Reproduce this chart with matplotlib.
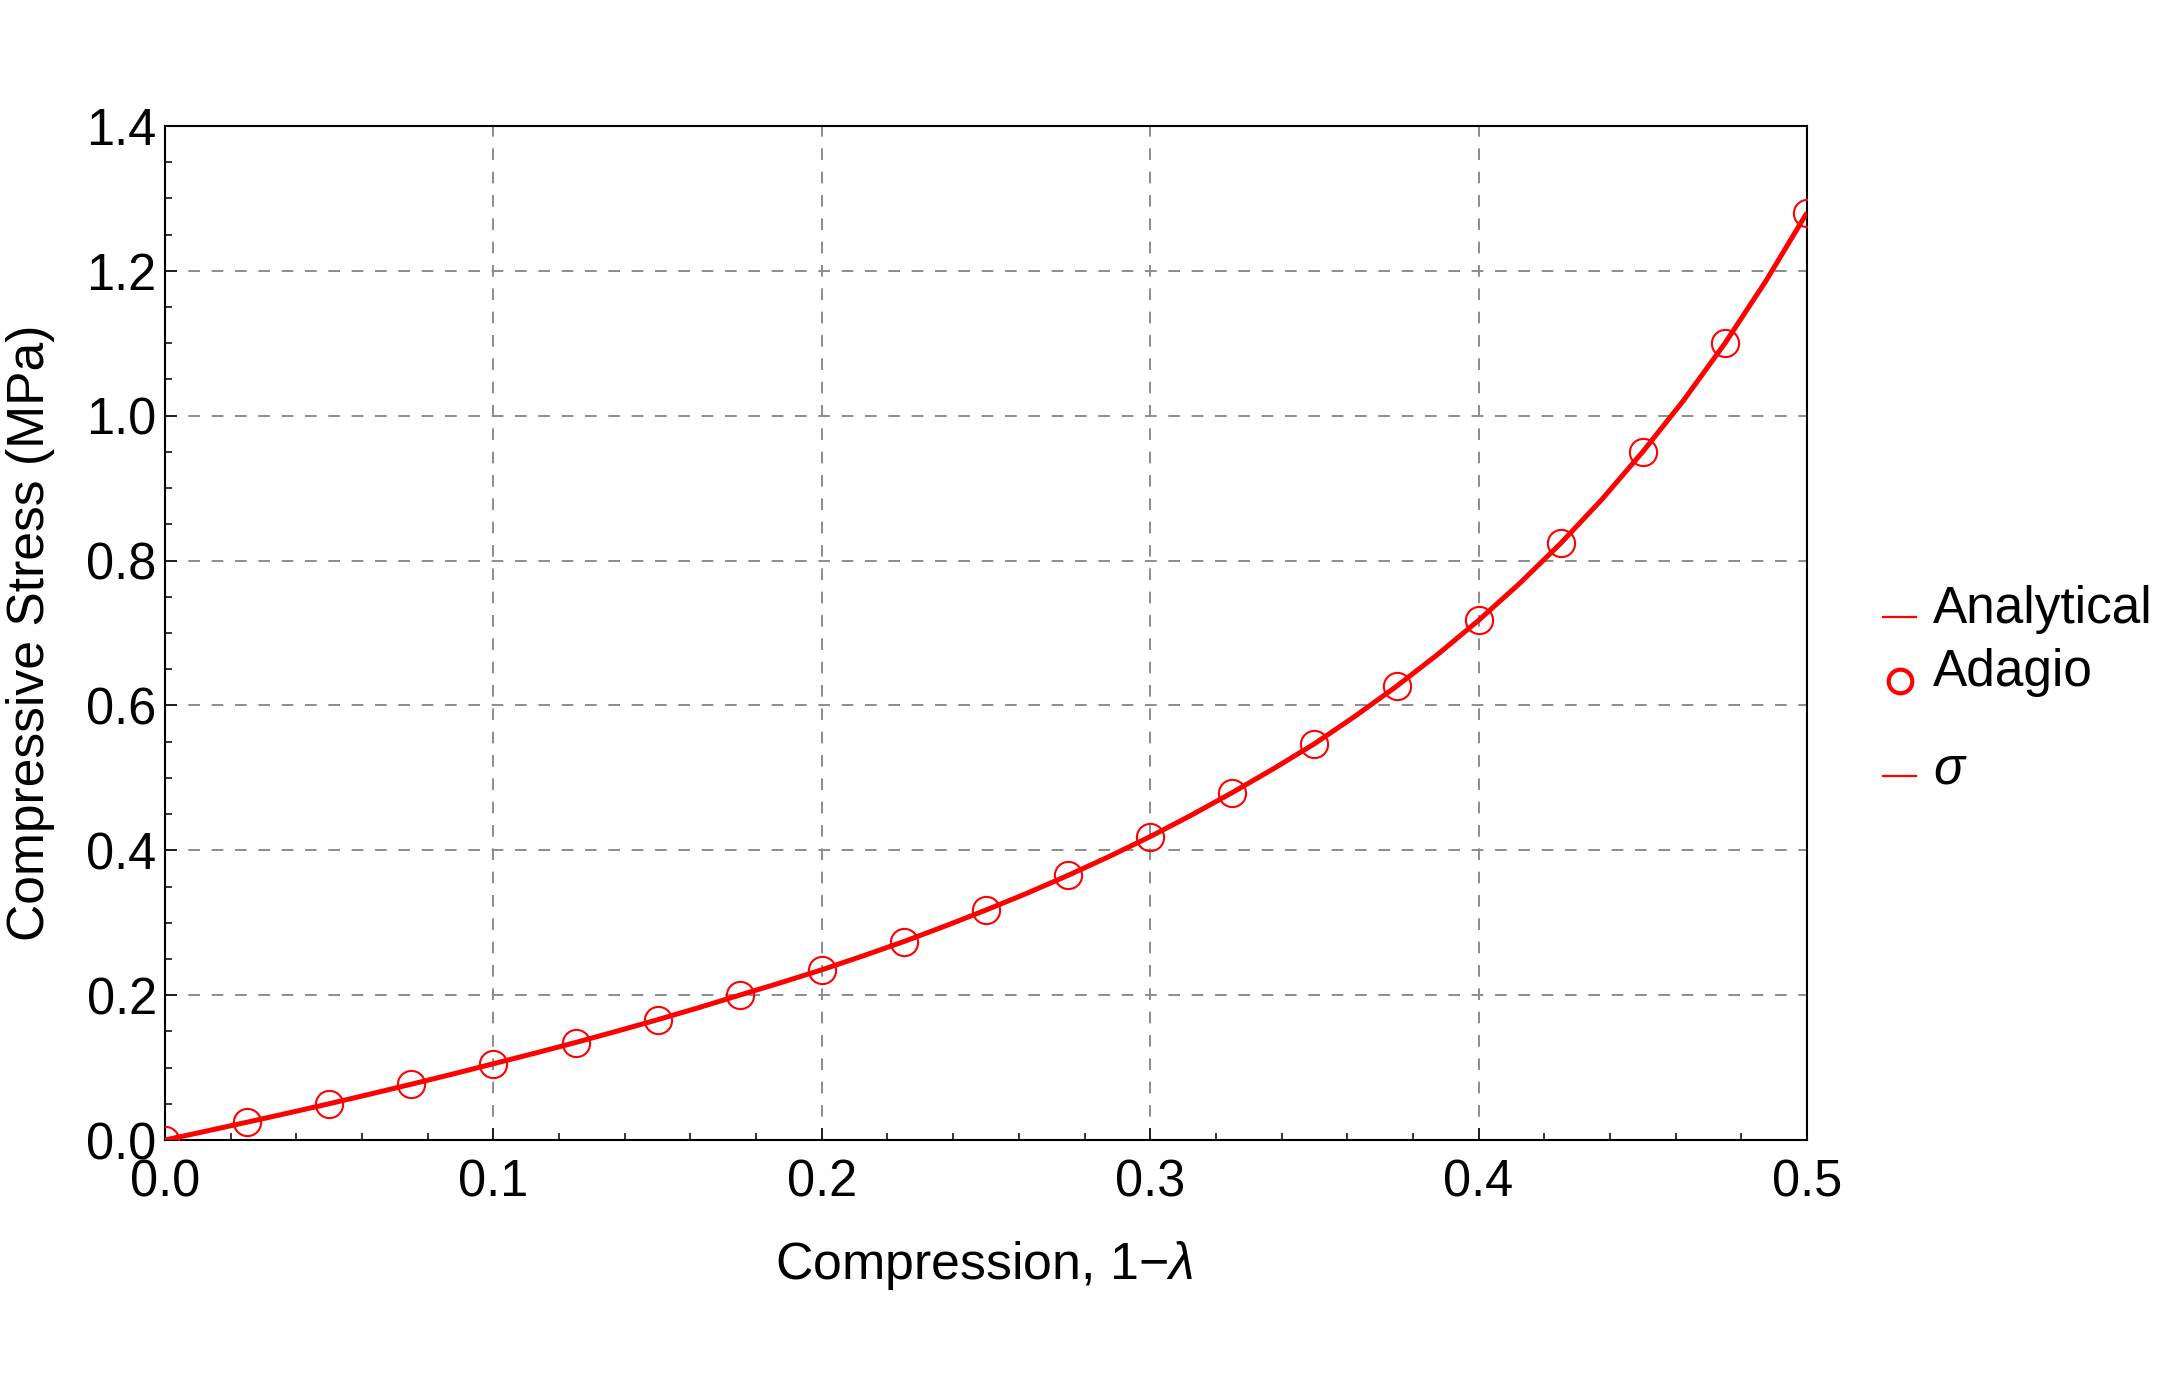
import matplotlib
matplotlib.use("Agg")
import matplotlib.pyplot as plt
from matplotlib.lines import Line2D
from matplotlib.ticker import MultipleLocator, FormatStrFormatter

plt.rcParams['font.family'] = ['Liberation Sans', 'DejaVu Sans']
plt.rcParams['mathtext.fontset'] = 'custom'
plt.rcParams['mathtext.rm'] = 'Liberation Sans'
plt.rcParams['mathtext.it'] = 'Liberation Sans:italic'
plt.rcParams['lines.scale_dashes'] = False

# Adagio (simulation) points
adagio_x = [0.0, 0.025, 0.05, 0.075, 0.1, 0.125, 0.15, 0.175, 0.2, 0.225, 0.25,
            0.275, 0.3, 0.325, 0.35, 0.375, 0.4, 0.425, 0.45, 0.475, 0.5]
adagio_y = [0.0, 0.0246, 0.0501, 0.077, 0.1053, 0.1346, 0.1661, 0.200, 0.235, 0.274, 0.3175,
            0.3654, 0.4189, 0.4797, 0.547, 0.6264, 0.7175, 0.8238, 0.9503, 1.0999, 1.2803]

# Analytical curve
analytic_x = [0.0, 0.0125, 0.025, 0.0375, 0.05, 0.0625, 0.075, 0.0875, 0.1, 0.1125, 0.125,
              0.1375, 0.15, 0.1625, 0.175, 0.1875, 0.2, 0.2125, 0.225, 0.2375, 0.25,
              0.2625, 0.275, 0.2875, 0.3, 0.3125, 0.325, 0.3375, 0.35, 0.3625, 0.375,
              0.3875, 0.4, 0.4125, 0.425, 0.4375, 0.45, 0.4625, 0.475, 0.4875, 0.5]
analytic_y = [0.0, 0.0122, 0.0246, 0.0372, 0.0501, 0.0634, 0.077, 0.0909, 0.1053, 0.1197, 0.1346,
              0.1501, 0.1661, 0.1827, 0.200, 0.2172, 0.235, 0.2541, 0.274, 0.2953, 0.3175,
              0.3407, 0.3654, 0.3914, 0.4189, 0.4484, 0.4797, 0.5125, 0.547, 0.5855, 0.6264,
              0.6703, 0.7175, 0.7685, 0.8238, 0.8842, 0.9503, 1.0217, 1.0999, 1.1862, 1.2803]

x_label = 'Compression, 1\u2212$\\lambda$'
y_label = 'Compressive Stress (MPa)'
legend_labels = ['Analytical', 'Adagio', '$\\sigma$']

RED = '#ff0000'
W, H = 2180, 1392
fig = plt.figure(figsize=(W / 200, H / 200), dpi=200)
ax = fig.add_axes([165 / W, 1 - 1140 / H, (1807 - 165) / W, (1140 - 126) / H])

ax.plot(adagio_x, adagio_y, linestyle='none', marker='o', markersize=9.8,
        markerfacecolor='none', markeredgecolor=RED, markeredgewidth=0.75, zorder=3)
ax.plot(analytic_x, analytic_y, color=RED, linewidth=1.8, zorder=4,
        solid_capstyle='butt')

ax.set_xlim(0, 0.5)
ax.set_ylim(0, 1.4)
ax.xaxis.set_major_locator(MultipleLocator(0.1))
ax.xaxis.set_minor_locator(MultipleLocator(0.02))
ax.yaxis.set_major_locator(MultipleLocator(0.2))
ax.yaxis.set_minor_locator(MultipleLocator(0.05))
ax.xaxis.set_major_formatter(FormatStrFormatter('%.1f'))
ax.yaxis.set_major_formatter(FormatStrFormatter('%.1f'))

ax.tick_params(which='both', direction='in', top=False, right=False, width=0.55, color='black')
ax.tick_params(which='major', length=4.3, labelsize=18.2)
ax.tick_params(which='minor', length=2.5)
ax.tick_params(axis='x', which='major', pad=6.5)
ax.tick_params(axis='y', which='major', pad=3)

for s in ax.spines.values():
    s.set_linewidth(0.75)

ax.grid(True, which='major', color='#8c8c8c', linewidth=0.7, linestyle=(0, (4.2, 4.2)))
ax.set_axisbelow(True)

fig.text(984 / W, 1 - 1265 / H, x_label, ha='center', va='center', fontsize=18.7)
fig.text(31 / W, 1 - 633 / H, y_label, ha='center', va='center', rotation=90, fontsize=18.6)

# legend (drawn in figure coordinates)
fig.add_artist(Line2D([1883 / W, 1916 / W], [1 - 617 / H, 1 - 617 / H],
                      color=RED, linewidth=0.8, transform=fig.transFigure))
fig.add_artist(Line2D([1900 / W], [1 - 681 / H], marker='o', markersize=8.5,
                      markerfacecolor='none', markeredgecolor=RED, markeredgewidth=1.5,
                      linestyle='none', transform=fig.transFigure))
fig.add_artist(Line2D([1883 / W, 1916 / W], [1 - 776 / H, 1 - 776 / H],
                      color=RED, linewidth=0.8, transform=fig.transFigure))
fig.text(1933 / W, 1 - 609 / H, legend_labels[0], ha='left', va='center', fontsize=18.5)
fig.text(1933 / W, 1 - 673 / H, legend_labels[1], ha='left', va='center', fontsize=18.5)
fig.text(1933 / W, 1 - 770 / H, legend_labels[2], ha='left', va='center', fontsize=18.5)

fig.savefig('out.png', dpi=200)
